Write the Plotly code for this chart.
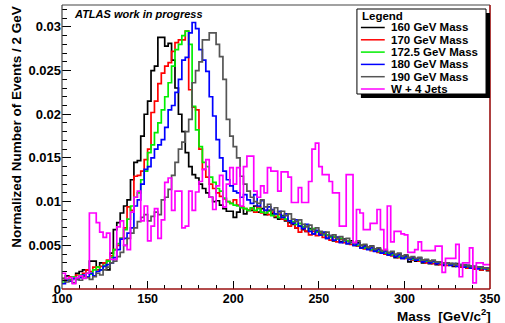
import numpy as np
import plotly.graph_objects as go

# ---------------- data (normalized counts per 2 GeV bin, 100..350) ----------------
bin_width = 2
x_min, x_max = 100, 350

names = ["160 GeV Mass", "170 GeV Mass", "172.5 GeV Mass", "180 GeV Mass", "190 GeV Mass", "W + 4 Jets"]
colors = ["#000000", "#ff0000", "#00ee00", "#0000ff", "#555555", "#ff00ff"]

m160 = [
    0.0012, 0.0015, 0.0010, 0.0012, 0.0018, 0.0020, 0.0022, 0.0022, 0.0032, 0.0032,
    0.0025, 0.0030, 0.0030, 0.0022, 0.0041, 0.0068, 0.0076, 0.0087, 0.0095, 0.0102,
    0.0125, 0.0145, 0.0147, 0.0175, 0.0200, 0.0215, 0.0250, 0.0255, 0.0288, 0.0288,
    0.0278, 0.0281, 0.0262, 0.0230, 0.0200, 0.0180, 0.0156, 0.0140, 0.0131, 0.0127,
    0.0120, 0.0115, 0.0110, 0.0105, 0.0100, 0.0101, 0.0096, 0.0092, 0.0089, 0.0089,
    0.0082, 0.0088, 0.0094, 0.0086, 0.0090,
    0.0090, 0.0095, 0.0088, 0.0092, 0.0085, 0.0090, 0.0086, 0.0082, 0.0080, 0.0084,
    0.0078, 0.0076, 0.0074, 0.0070, 0.0072, 0.0068, 0.0066, 0.0069, 0.0063, 0.0066,
    0.0062, 0.0064, 0.0058, 0.0060, 0.0055, 0.0059, 0.0054, 0.0057, 0.0052, 0.0055,
    0.0050, 0.0053, 0.0047, 0.0050, 0.0046, 0.0049, 0.0044, 0.0046, 0.0041, 0.0044,
    0.0039, 0.0042, 0.0036, 0.0040, 0.0035, 0.0038, 0.0031, 0.0035, 0.0032, 0.0036,
    0.0030, 0.0033, 0.0029, 0.0032, 0.0028, 0.0031, 0.0027, 0.0030, 0.0028, 0.0026,
    0.0029, 0.0025, 0.0027, 0.0024, 0.0026, 0.0023, 0.0025, 0.0022, 0.0024, 0.0021,
]

m170 = [
    0.0012, 0.0010, 0.0014, 0.0012, 0.0016, 0.0015, 0.0018, 0.0022, 0.0020, 0.0025,
    0.0022, 0.0026, 0.0030, 0.0033, 0.0038, 0.0045, 0.0050, 0.0058, 0.0070, 0.0094,
    0.0090, 0.0129, 0.0130, 0.0135, 0.0148, 0.0160, 0.0202, 0.0215, 0.0235, 0.0247,
    0.0255, 0.0259, 0.0272, 0.0282, 0.0285, 0.0285, 0.0295, 0.0228, 0.0208, 0.0205,
    0.0160, 0.0137, 0.0128, 0.0120, 0.0115, 0.0110, 0.0106, 0.0103, 0.0100, 0.0098,
    0.0102, 0.0096, 0.0094, 0.0092, 0.0090,
    0.0092, 0.0088, 0.0094, 0.0087, 0.0090, 0.0085, 0.0088, 0.0083, 0.0085, 0.0080,
    0.0079, 0.0072, 0.0076, 0.0070, 0.0065, 0.0070, 0.0066, 0.0062, 0.0066, 0.0061,
    0.0064, 0.0059, 0.0061, 0.0056, 0.0059, 0.0054, 0.0057, 0.0053, 0.0055, 0.0051,
    0.0052, 0.0049, 0.0050, 0.0046, 0.0048, 0.0044, 0.0045, 0.0042, 0.0044, 0.0040,
    0.0041, 0.0038, 0.0039, 0.0036, 0.0037, 0.0035, 0.0036, 0.0033, 0.0034, 0.0032,
    0.0033, 0.0030, 0.0032, 0.0029, 0.0031, 0.0028, 0.0030, 0.0027, 0.0029, 0.0027,
    0.0028, 0.0025, 0.0027, 0.0024, 0.0026, 0.0023, 0.0025, 0.0022, 0.0024, 0.0022,
]

m172 = [
    0.0008, 0.0012, 0.0011, 0.0014, 0.0013, 0.0016, 0.0015, 0.0018, 0.0017, 0.0022,
    0.0025, 0.0022, 0.0027, 0.0032, 0.0036, 0.0045, 0.0052, 0.0058, 0.0068, 0.0080,
    0.0095, 0.0105, 0.0110, 0.0125, 0.0135, 0.0156, 0.0165, 0.0179, 0.0190, 0.0205,
    0.0220, 0.0236, 0.0255, 0.0274, 0.0280, 0.0290, 0.0295, 0.0280, 0.0209, 0.0182,
    0.0163, 0.0145, 0.0140, 0.0128, 0.0122, 0.0115, 0.0112, 0.0104, 0.0100, 0.0098,
    0.0096, 0.0095, 0.0093, 0.0092, 0.0090,
    0.0093, 0.0090, 0.0092, 0.0088, 0.0087, 0.0089, 0.0084, 0.0086, 0.0082, 0.0083,
    0.0080, 0.0078, 0.0077, 0.0074, 0.0075, 0.0071, 0.0072, 0.0068, 0.0069, 0.0065,
    0.0065, 0.0062, 0.0062, 0.0059, 0.0060, 0.0057, 0.0058, 0.0055, 0.0055, 0.0053,
    0.0052, 0.0050, 0.0050, 0.0047, 0.0047, 0.0045, 0.0045, 0.0043, 0.0043, 0.0041,
    0.0041, 0.0039, 0.0039, 0.0037, 0.0037, 0.0036, 0.0035, 0.0034, 0.0034, 0.0033,
    0.0033, 0.0032, 0.0032, 0.0031, 0.0031, 0.0030, 0.0030, 0.0029, 0.0029, 0.0028,
    0.0028, 0.0027, 0.0027, 0.0026, 0.0026, 0.0025, 0.0025, 0.0024, 0.0024, 0.0023,
]

m180 = [
    0.0006, 0.0010, 0.0009, 0.0012, 0.0011, 0.0013, 0.0016, 0.0014, 0.0018, 0.0015,
    0.0020, 0.0022, 0.0026, 0.0028, 0.0030, 0.0036, 0.0045, 0.0057, 0.0058, 0.0064,
    0.0070, 0.0095, 0.0102, 0.0120, 0.0137, 0.0140, 0.0150, 0.0160, 0.0165, 0.0171,
    0.0185, 0.0205, 0.0210, 0.0225, 0.0240, 0.0262, 0.0265, 0.0293, 0.0305, 0.0298,
    0.0274, 0.0262, 0.0249, 0.0220, 0.0198, 0.0171, 0.0150, 0.0135, 0.0125, 0.0118,
    0.0112, 0.0110, 0.0105, 0.0108, 0.0102,
    0.0098, 0.0108, 0.0095, 0.0101, 0.0090, 0.0094, 0.0091, 0.0086, 0.0089, 0.0082,
    0.0086, 0.0078, 0.0075, 0.0079, 0.0072, 0.0069, 0.0074, 0.0066, 0.0063, 0.0067,
    0.0062, 0.0065, 0.0058, 0.0061, 0.0056, 0.0059, 0.0053, 0.0056, 0.0052, 0.0054,
    0.0050, 0.0052, 0.0047, 0.0049, 0.0045, 0.0047, 0.0043, 0.0045, 0.0041, 0.0043,
    0.0039, 0.0041, 0.0037, 0.0039, 0.0035, 0.0037, 0.0034, 0.0036, 0.0033, 0.0035,
    0.0031, 0.0033, 0.0030, 0.0032, 0.0029, 0.0031, 0.0028, 0.0030, 0.0027, 0.0029,
    0.0026, 0.0028, 0.0025, 0.0027, 0.0024, 0.0026, 0.0023, 0.0025, 0.0023, 0.0024,
]

m190 = [
    0.0012, 0.0008, 0.0010, 0.0007, 0.0011, 0.0010, 0.0014, 0.0013, 0.0011, 0.0014,
    0.0018, 0.0016, 0.0022, 0.0025, 0.0030, 0.0032, 0.0037, 0.0042, 0.0050, 0.0058,
    0.0064, 0.0070, 0.0077, 0.0082, 0.0085, 0.0078, 0.0083, 0.0088, 0.0085, 0.0102,
    0.0105, 0.0114, 0.0130, 0.0145, 0.0160, 0.0168, 0.0180, 0.0194, 0.0236, 0.0250,
    0.0260, 0.0285, 0.0285, 0.0293, 0.0293, 0.0280, 0.0266, 0.0240, 0.0194, 0.0175,
    0.0163, 0.0150, 0.0129, 0.0120, 0.0112,
    0.0105, 0.0100, 0.0098, 0.0102, 0.0094, 0.0097, 0.0090, 0.0093, 0.0087, 0.0089,
    0.0084, 0.0086, 0.0080, 0.0077, 0.0079, 0.0074, 0.0071, 0.0073, 0.0068, 0.0070,
    0.0066, 0.0063, 0.0065, 0.0061, 0.0062, 0.0058, 0.0060, 0.0056, 0.0058, 0.0054,
    0.0053, 0.0055, 0.0050, 0.0051, 0.0048, 0.0049, 0.0046, 0.0047, 0.0044, 0.0045,
    0.0042, 0.0043, 0.0040, 0.0041, 0.0038, 0.0039, 0.0036, 0.0037, 0.0035, 0.0036,
    0.0033, 0.0034, 0.0032, 0.0033, 0.0031, 0.0031, 0.0030, 0.0030, 0.0029, 0.0029,
    0.0028, 0.0028, 0.0027, 0.0027, 0.0026, 0.0026, 0.0025, 0.0025, 0.0024, 0.0024,
]

wjets = [
    0.0018, 0.0012, 0.0013, 0.0006, 0.0013, 0.0015, 0.0012, 0.0018, 0.0087, 0.0087,
    0.0076, 0.0065, 0.0059, 0.0064, 0.0034, 0.0034, 0.0071, 0.0078, 0.0050, 0.0045,
    0.0088, 0.0105, 0.0112, 0.0078, 0.0095, 0.0055, 0.0072, 0.0092, 0.0058, 0.0079,
    0.0122, 0.0127, 0.0090, 0.0112, 0.0112, 0.0070, 0.0072, 0.0112, 0.0090, 0.0111,
    0.0123, 0.0137, 0.0148, 0.0105, 0.0091, 0.0118, 0.0130, 0.0094, 0.0120, 0.0139,
    0.0120, 0.0139, 0.0095, 0.0140, 0.0152, 0.0152, 0.0112, 0.0105, 0.0118, 0.0110,
    0.0139, 0.0135, 0.0135, 0.0112, 0.0134, 0.0134, 0.0128, 0.0099, 0.0099, 0.0116,
    0.0099, 0.0099, 0.0123, 0.0160, 0.0167, 0.0140, 0.0131, 0.0131, 0.0123, 0.0110,
    0.0110, 0.0072, 0.0072, 0.0131, 0.0131, 0.0053, 0.0091, 0.0087, 0.0068, 0.0068,
    0.0075, 0.0075, 0.0091, 0.0068, 0.0045, 0.0095, 0.0054, 0.0066, 0.0066, 0.0063,
    0.0062, 0.0042, 0.0042, 0.0045, 0.0054, 0.0044, 0.0044, 0.0044, 0.0044, 0.0049,
    0.0049, 0.0019, 0.0035, 0.0035, 0.0035, 0.0051, 0.0014, 0.0030, 0.0030, 0.0047,
    0.0007, 0.0030, 0.0030, 0.0028, 0.0028,
]

series = [m160, m170, m172, m180, m190, wjets]

x_tickvals = [100, 150, 200, 250, 300, 350]
x_ticktext = ["100", "150", "200", "250", "300", "350"]
y_tickvals = [0, 0.005, 0.01, 0.015, 0.02, 0.025, 0.03]
y_ticktext = ["0", "0.005", "0.01", "0.015", "0.02", "0.025", "0.03"]

# ---------------- figure ----------------
edges = np.arange(x_min, x_max + bin_width, bin_width)
W, H = 505, 323
L, R, T, B = 62, 493, 5, 289


def px2x(px):
    return (px - L) / (R - L)


def py2y(py):
    return (B - py) / (B - T)


FONT = "Liberation Sans, Arial, Helvetica, sans-serif"

fig = go.Figure()
for name, col, vals in zip(names, colors, series):
    n = min(len(vals), len(edges) - 1)
    xs = list(edges[: n + 1])
    ys = list(vals[:n]) + [vals[n - 1]]
    fig.add_trace(go.Scatter(
        x=xs, y=ys, mode="lines", name=name,
        line=dict(color=col, width=1.7, shape="hv"),
        hoverinfo="skip", showlegend=False,
    ))

shapes = []
annotations = []

# frame
shapes.append(dict(type="line", xref="paper", yref="paper", x0=0, x1=1, y0=1, y1=1,
                   line=dict(color="#444444", width=1.2), layer="above"))
shapes.append(dict(type="line", xref="paper", yref="paper", x0=0, x1=0, y0=0, y1=1,
                   line=dict(color="#444444", width=1.2), layer="above"))
shapes.append(dict(type="line", xref="paper", yref="paper", x0=0, x1=1, y0=0, y1=0,
                   line=dict(color="#9a1010", width=1.6), layer="above"))
shapes.append(dict(type="line", xref="paper", yref="paper", x0=1, x1=1, y0=0, y1=1,
                   line=dict(color="#9a1010", width=1.6), layer="above"))

# legend (drawn with shadow, as in the original)
lx0, lx1, ly0, ly1 = 359, 489, 9, 94
shapes.append(dict(type="rect", xref="paper", yref="paper",
                   x0=px2x(lx0 + 4), x1=px2x(lx1 + 4), y0=py2y(ly1 + 4), y1=py2y(ly0 + 4),
                   fillcolor="#000000", line=dict(width=0), layer="above"))
shapes.append(dict(type="rect", xref="paper", yref="paper",
                   x0=px2x(lx0), x1=px2x(lx1), y0=py2y(ly1), y1=py2y(ly0),
                   fillcolor="#ffffff", line=dict(color="#000000", width=1), layer="above"))
annotations.append(dict(text="<b>Legend</b>", xref="paper", yref="paper",
                        x=px2x(362), y=py2y(15.5), xanchor="left", yanchor="middle",
                        showarrow=False, font=dict(family=FONT, size=11.5, color="#000000")))
row_y0, row_dy = 27.5, 12.3
for i, (name, col) in enumerate(zip(names, colors)):
    yy = row_y0 + i * row_dy
    shapes.append(dict(type="line", xref="paper", yref="paper",
                       x0=px2x(363), x1=px2x(387), y0=py2y(yy), y1=py2y(yy),
                       line=dict(color=col, width=1.5), layer="above"))
    annotations.append(dict(text="<b>%s</b>" % name, xref="paper", yref="paper",
                            x=px2x(391), y=py2y(yy), xanchor="left", yanchor="middle",
                            showarrow=False, font=dict(family=FONT, size=11.5, color="#000000")))

# texts
annotations.append(dict(text="<b><i>ATLAS work in progress</i></b>", xref="paper", yref="paper",
                        x=px2x(72), y=py2y(14), xanchor="left", yanchor="middle",
                        showarrow=False, font=dict(family=FONT, size=11, color="#000000")))
annotations.append(dict(text="<b>Normalized Number of Events / 2 GeV</b>", xref="paper", yref="paper",
                        x=px2x(16.5), y=py2y(4), xanchor="center", yanchor="top", textangle=-90,
                        showarrow=False, font=dict(family=FONT, size=13.5, color="#000000")))
annotations.append(dict(text="<b>Mass\u00a0\u00a0[GeV/c<sup>2</sup>]</b>", xref="paper", yref="paper",
                        x=px2x(496), y=py2y(314.5), xanchor="right", yanchor="middle",
                        showarrow=False, font=dict(family=FONT, size=13.5, color="#000000")))

fig.update_layout(
    width=W, height=H,
    margin=dict(l=L, r=W - R, t=T, b=H - B),
    paper_bgcolor="#ffffff", plot_bgcolor="#ffffff",
    showlegend=False,
    shapes=shapes, annotations=annotations,
    xaxis=dict(
        range=[x_min, x_max], showgrid=False, zeroline=False, showline=False,
        tickmode="array", tickvals=x_tickvals, ticktext=x_ticktext,
        ticks="inside", ticklen=8, tickwidth=1, tickcolor="#000000",
        minor=dict(ticks="inside", ticklen=4, tickwidth=1, tickcolor="#000000",
                   tickmode="array", tickvals=list(range(110, 350, 10))),
        tickfont=dict(family=FONT, size=12.5, color="#000000", weight="bold"),
    ),
    yaxis=dict(
        range=[0, 0.0325], showgrid=False, zeroline=False, showline=False,
        tickmode="array", tickvals=y_tickvals, ticktext=y_ticktext,
        ticks="inside", ticklen=9, tickwidth=1, tickcolor="#000000",
        minor=dict(ticks="inside", ticklen=4.5, tickwidth=1, tickcolor="#000000",
                   tickmode="array", tickvals=[i * 0.001 for i in range(1, 33) if i % 5 != 0]),
        tickfont=dict(family=FONT, size=13, color="#000000", weight="bold"),
    ),
)

fig.write_html("out.html")
